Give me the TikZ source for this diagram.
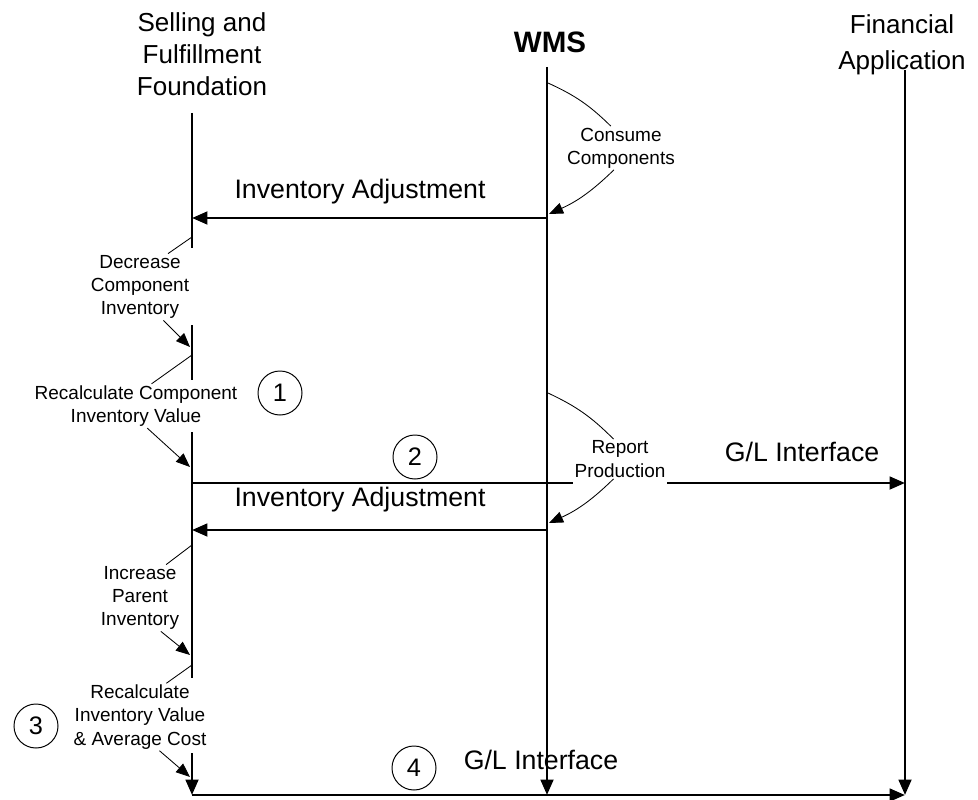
\documentclass[tikz,border=0pt]{standalone}
\usepackage{fontspec}
\setmainfont{Liberation Sans}
\usetikzlibrary{arrows.meta}

\begin{document}
\begin{tikzpicture}[
		x=0.025cm, y=-0.025cm,
		every node/.style={align=center, inner sep=1pt},
		head/.style={font=\fontsize{18.5}{22.7}\selectfont},
		msg/.style={font=\fontsize{19}{23}\selectfont},
		note/.style={font=\fontsize{13.5}{16.5}\selectfont},
		num/.style={circle, draw, line width=0.7pt, minimum size=1.1cm, font=\fontsize{18}{20}\selectfont},
		life/.style={line width=2pt},
		flow/.style={line width=2pt, -{Triangle[length=11pt,width=9pt]}},
		hint/.style={line width=0.6pt},
		hintarrow/.style={line width=0.6pt, -{Triangle[length=10pt,width=8pt]}}
		]
		\useasboundingbox (0,0) rectangle (978,800);
		
		% headers
		\node[head] (sff) at (202,54) {Selling and\\Fulfillment\\Foundation};
		\node[head, font=\fontsize{21}{24}\selectfont\bfseries] (wms) at (550,42) {WMS};
		\node[head, font=\fontsize{18.5}{25.5}\selectfont] (fin) at (902,45) {Financial\\Application};
		
		% lifeline points
		\coordinate (s0) at (192,113);
		\coordinate (s1) at (192,248);
		\coordinate (s2) at (192,325);
		\coordinate (s3) at (192,380);
		\coordinate (s4) at (192,432);
		\coordinate (s5) at (192,678);
		\coordinate (s6) at (192,753);
		\coordinate (s7) at (192,795);
		\coordinate (w0) at (547,67);
		\coordinate (w7) at (547,795);
		\coordinate (f0) at (905,70);
		\coordinate (f7) at (905,795);
		
		\coordinate (sa1) at (192,218);
		\coordinate (sa2) at (192,483);
		\coordinate (sa3) at (192,530);
		\coordinate (wa1) at (547,218);
		\coordinate (wa3) at (547,530);
		\coordinate (fa2) at (905,483);
		
		% labels
		\node[msg] (adj1) at (360,192) {Inventory Adjustment};
		\node[msg] (adj2) at (360,500) {Inventory Adjustment};
		\node[msg] (gl1) at (802,452) {G/L Interface};
		\node[msg] (gl2) at (541,760) {G/L Interface};
		\node[note] (con) at (621,148) {Consume\\Components};
		\node[note] (rep) at (620,459) {Report\\Production};
		\node[note] (dec) at (140,287) {Decrease\\Component\\Inventory};
		\node[note] (rcc) at (136,406) {Recalculate Component\\Inventory Value};
		\node[note] (inc) at (140,598) {Increase\\Parent\\Inventory};
		\node[note] (riv) at (140,717) {Recalculate\\Inventory Value\\\& Average Cost};
		
		\node[num] (n1) at (280,393) {1};
		\node[num] (n2) at (415,457) {2};
		\node[num] (n3) at (36,726) {3};
		\node[num] (n4) at (414,768) {4};
		
		% lifelines
		\draw[life] (s0) -- (s1);
		\draw[life] (s2) -- (s3);
		\draw[life] (s4) -- (s5);
		\draw[flow] (s6) -- (s7);
		\draw[flow] (w0) -- (w7);
		\draw[flow] (f0) -- (f7);
		
		% messages
		\draw[flow] (wa1) -- (sa1);
		\draw[life] (sa2) -- (sa2 -| rep.west);
		\draw[flow] (sa2 -| rep.east) -- (fa2);
		\draw[flow] (wa3) -- (sa3);
		\draw[flow] (s7) -- (f7);
		
		% callouts
		\coordinate (wc1) at (548,83);
		\coordinate (wc2) at (549,214);
		\coordinate (wr1) at (548,393);
		\coordinate (wr2) at (549,523);
		\draw[hint] (wc1) to[bend left=10] (con.115);
		\draw[hintarrow] (con.-108) to[bend left=10] (wc2);
		\draw[hint] (wr1) to[bend left=10] (rep.108);
		\draw[hintarrow] (rep.-108) to[bend left=10] (wr2);
		
		\coordinate (sd1) at (192,237);
		\coordinate (sd2) at (190,347);
		\coordinate (sr1) at (192,355);
		\coordinate (sr2) at (190,467);
		\coordinate (si1) at (192,545);
		\coordinate (si2) at (190,655);
		\coordinate (sv1) at (192,665);
		\coordinate (sv2) at (190,777);
		\draw[hint] (dec.50) -- (sd1);
		\draw[hintarrow] (dec.-55) -- (sd2);
		\draw[hint] (rcc.55) -- (sr1);
		\draw[hintarrow] (rcc.-63) -- (sr2);
		\draw[hint] (inc.52) -- (si1);
		\draw[hintarrow] (inc.-58) -- (si2);
		\draw[hint] (riv.52) -- (sv1);
		\draw[hintarrow] (riv.-60) -- (sv2);
	\end{tikzpicture}
\end{document}
